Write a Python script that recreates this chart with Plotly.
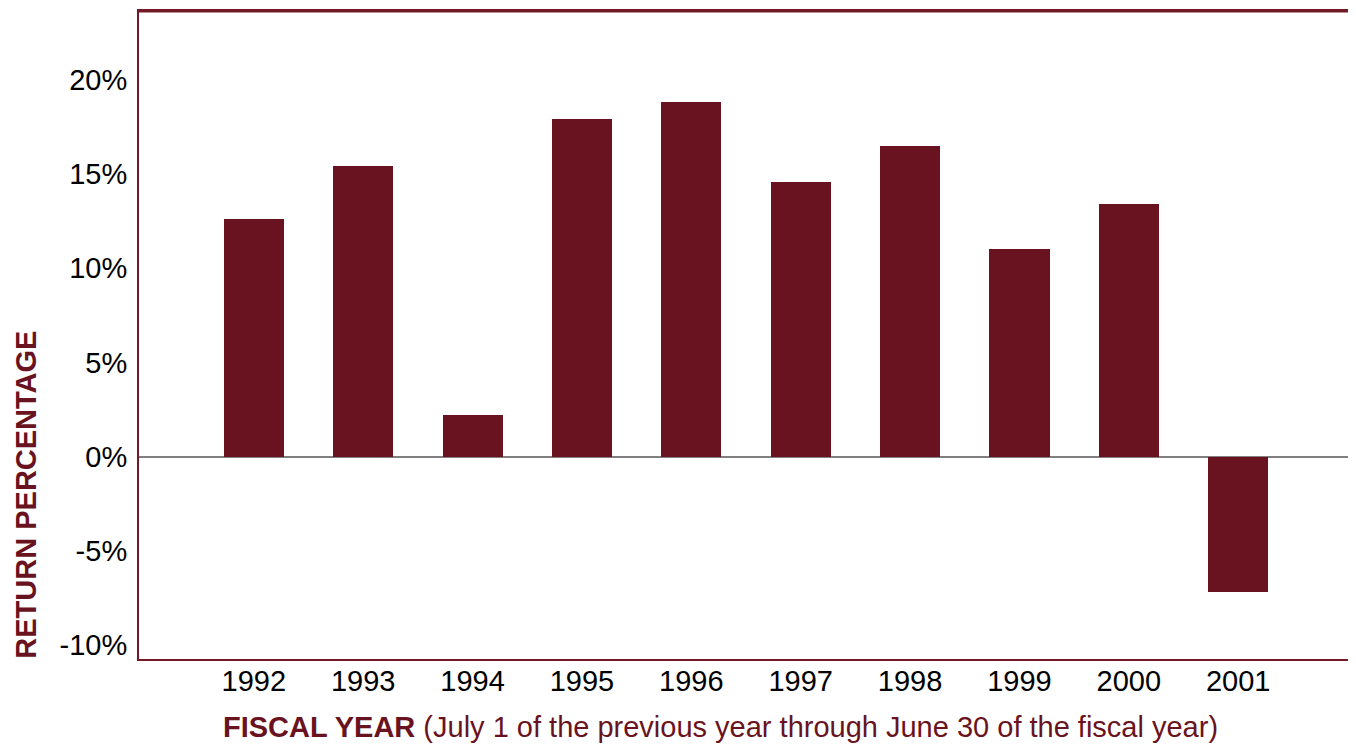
import plotly.graph_objects as go

years = ["1992", "1993", "1994", "1995", "1996", "1997", "1998", "1999", "2000", "2001"]
returns = [12.6, 15.4, 2.2, 17.9, 18.8, 14.6, 16.5, 11.0, 13.4, -7.2]
y_ticks = [-10, -5, 0, 5, 10, 15, 20]
y_tick_labels = ["-10%", "-5%", "0%", "5%", "10%", "15%", "20%"]

MAROON = "#6a1320"
FRAME = "#731a28"
FONT = "Liberation Sans, Arial, sans-serif"

# page has an 8px body margin; compensate so the plot lands where the reference has it
L, T, PW, PH = 131, 1, 1216, 650
W, H = 1348, 736

fig = go.Figure()
fig.add_trace(go.Bar(
    x=years, y=returns, width=0.55,
    marker=dict(color=MAROON, line=dict(width=0)),
))

fig.update_layout(
    width=W, height=H,
    margin=dict(l=L, r=W - L - PW, t=T, b=H - T - PH),
    plot_bgcolor="white", paper_bgcolor="white",
    showlegend=False,
    font=dict(family=FONT, size=29, color="black"),
    bargap=0,
)
fig.update_xaxes(
    type="category", range=[-1.05, 10.05],
    showgrid=False, zeroline=False,
    showline=True, linecolor=FRAME, linewidth=2, mirror=True,
    ticks="", ticklabelstandoff=-5,
    tickfont=dict(size=29, color="black"),
)
fig.update_yaxes(
    range=[-10.74, 23.65],
    tickvals=y_ticks, ticktext=y_tick_labels,
    showgrid=False,
    zeroline=True, zerolinecolor="#808080", zerolinewidth=1.5,
    showline=True, linecolor=FRAME, linewidth=2, mirror=True,
    ticks="", ticklabelstandoff=4,
    tickfont=dict(size=29, color="black"),
)

# slightly heavier top frame edge, as in the reference
fig.add_shape(type="line", xref="paper", yref="paper", x0=0, x1=1, y0=1, y1=1,
              line=dict(color=FRAME, width=3))

fig.add_annotation(
    xref="paper", yref="paper", x=(713 - L) / PW, y=(T + PH - 719) / PH,
    text="<b>FISCAL YEAR</b> (July 1 of the previous year through June 30 of the fiscal year)",
    showarrow=False, font=dict(family=FONT, size=29, color=MAROON),
    xanchor="center", yanchor="middle",
)
fig.add_annotation(
    xref="paper", yref="paper", x=(17 - L) / PW, y=(T + PH - 486) / PH,
    text="<b>RETURN PERCENTAGE</b>", textangle=-90,
    showarrow=False, font=dict(family=FONT, size=29, color=MAROON),
    xanchor="center", yanchor="middle",
)

fig.write_html("out.html")
